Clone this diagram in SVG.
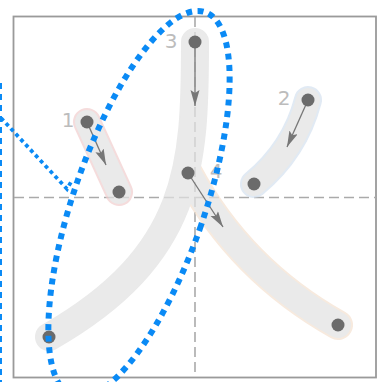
<svg xmlns="http://www.w3.org/2000/svg" width="383" height="382" viewBox="0 0 383 382">
<style>
.frame{fill:#fff;stroke:#9a9a9a;stroke-width:1.8}
.grid{stroke:#aaa;stroke-width:1.6;stroke-dasharray:10 5;fill:none}
.lbl{font-family:"DejaVu Sans",sans-serif;font-size:20px;fill:#bcbcbc;text-anchor:middle}
.band{fill:none;stroke:#e2e2e2;stroke-linecap:round;stroke-linejoin:round}
.halo{fill:none;stroke-linecap:round;stroke-linejoin:round}
.arr{fill:none;stroke:#777;stroke-width:1.3}
.dot{fill:#6b6b6b}
.blue{fill:none;stroke:#0a8af5}
</style>
<defs>
<marker id="ah" markerUnits="userSpaceOnUse" markerWidth="18" markerHeight="10" refX="16" refY="4.5" orient="auto">
<path d="M0,0 L16,4.5 L0,9 L3,4.5 Z" fill="#777"/>
</marker>
</defs>
<rect class="frame" x="13.5" y="16.5" width="362.5" height="361"/>
<g id="labels">
<text class="lbl" x="68" y="127">1</text>
<text class="lbl" x="284" y="105">2</text>
<text class="lbl" x="171" y="48">3</text>
<text class="lbl" x="216" y="178">4</text>
</g>
<g id="grid">
<line class="grid" x1="195" y1="17" x2="195" y2="377"/>
<line class="grid" x1="14" y1="197.5" x2="376" y2="197.5"/>
</g>
<g id="bands" opacity="0.72">
<path class="halo" stroke="#f2cfcf" stroke-width="28" d="M87 122 L119 192"/>
<path class="halo" stroke="#d6e2f0" stroke-width="28" d="M308 100 Q295 150 254 184"/>
<path class="halo" stroke="#f5e2d2" stroke-width="30" d="M188 173 Q240 270 338 325"/>
<path class="halo" stroke="#e2e2e2" stroke-width="28" d="M195 42 C195 165 192 255 49 337"/>
<path class="band" stroke-width="24" d="M87 122 L119 192"/>
<path class="band" stroke-width="24" d="M308 100 Q295 150 254 184"/>
<path class="band" stroke-width="26" d="M188 173 Q240 270 338 325"/>
<path class="band" stroke-width="26" d="M195 42 C195 165 192 255 49 337"/>
</g>
<g id="stroke1">
<line class="arr" x1="87" y1="122" x2="106" y2="165" marker-end="url(#ah)"/>
<circle class="dot" cx="87" cy="122" r="6.5"/>
<circle class="dot" cx="119" cy="192" r="6.5"/>
</g>
<g id="stroke2">
<line class="arr" x1="308" y1="100" x2="287" y2="147" marker-end="url(#ah)"/>
<circle class="dot" cx="308" cy="100" r="6.5"/>
<circle class="dot" cx="254" cy="184" r="6.5"/>
</g>
<g id="stroke3">
<line class="arr" x1="195" y1="42" x2="195" y2="106" marker-end="url(#ah)"/>
<circle class="dot" cx="195" cy="42" r="6.5"/>
<circle class="dot" cx="49" cy="337" r="6.5"/>
</g>
<g id="stroke4">
<line class="arr" x1="188" y1="173" x2="223" y2="227" marker-end="url(#ah)"/>
<circle class="dot" cx="188" cy="173" r="6.5"/>
<circle class="dot" cx="338" cy="325" r="6.5"/>
</g>
<g id="overlay">
<ellipse class="blue" stroke-width="6" stroke-dasharray="6 5.5" cx="139" cy="204" rx="65.6" ry="203" transform="rotate(19 139 204)"/>
<line class="blue" stroke-width="6" stroke-dasharray="6 5" x1="-1" y1="83" x2="-1" y2="382"/>
<polyline class="blue" stroke-width="3.8" stroke-dasharray="3.8 3.4" points="1,118 67,189 71,182"/>
</g>
</svg>
